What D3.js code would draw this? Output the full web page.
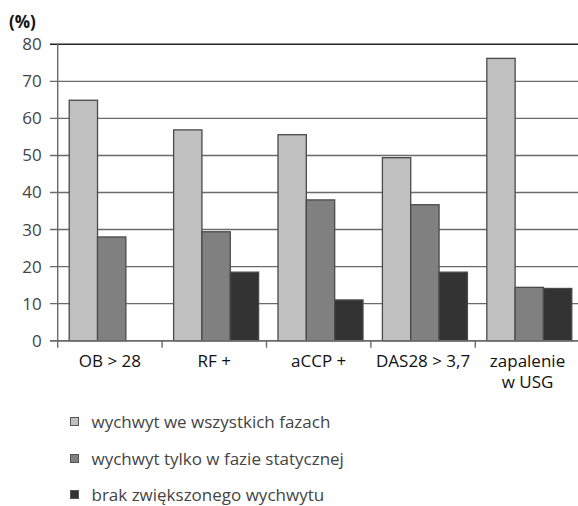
<!DOCTYPE html>
<html>
<head>
<meta charset="utf-8">
<script src="https://cdn.jsdelivr.net/npm/d3@7"></script>
<style>
  html, body { margin: 0; padding: 0; background: #fff; }
  svg { display: block; }
  text { font-family: "Open Sans", sans-serif; }
</style>
</head>
<body>
<svg id="chart" width="578" height="506"></svg>
<script>
const categories = [["OB > 28"], ["RF +"], ["aCCP +"], ["DAS28 > 3,7"], ["zapalenie", "w USG"]];
const seriesNames = ["wychwyt we wszystkich fazach", "wychwyt tylko w fazie statycznej", "brak zwiększonego wychwytu"];
const allPhases = [64.9, 56.9, 55.6, 49.4, 76.2];
const staticOnly = [28.0, 29.4, 38.0, 36.7, 14.4];
const noUptake = [0, 18.5, 11.0, 18.5, 14.1];
const yTicks = [0, 10, 20, 30, 40, 50, 60, 70, 80];
const colors = ["#c0c0c0", "#808080", "#333333"];

const seriesValues = [allPhases, staticOnly, noUptake];

const svg = d3.select("#chart");
const mLeft = 57.7, mRight = 579.7, mTop = 44.3, mBottom = 340.7;

const y = d3.scaleLinear().domain([0, 80]).range([mBottom, mTop]);
const x0 = d3.scaleBand().domain(d3.range(categories.length)).range([mLeft, mRight]).padding(0);
const groupOffset = 11.5, groupWidth = 85;
const x1 = d3.scaleBand().domain(d3.range(seriesNames.length)).range([0, groupWidth]).padding(0);

// y tick labels
const yAxis = d3.axisLeft(y).tickValues(yTicks).tickSize(0).tickPadding(16);
const gy = svg.append("g").attr("transform", `translate(${mLeft},0)`).call(yAxis);
gy.select(".domain").remove();
gy.selectAll("text").attr("font-size", 17).attr("fill", "#444").attr("font-family", "Open Sans, sans-serif");

// gridlines
svg.append("g").selectAll("line").data(yTicks).join("line")
  .attr("x1", 50).attr("x2", 578)
  .attr("y1", d => y(d)).attr("y2", d => y(d))
  .attr("stroke", d => d === 80 ? "#222" : "#6a6a6a")
  .attr("stroke-width", 1.4);

// y axis line
svg.append("line").attr("x1", mLeft).attr("x2", mLeft).attr("y1", mTop).attr("y2", mBottom + 7)
  .attr("stroke", "#6a6a6a").attr("stroke-width", 1.4);

// bars
const groups = svg.append("g").selectAll("g").data(categories).join("g")
  .attr("transform", (d, i) => `translate(${x0(i) + groupOffset},0)`);
groups.selectAll("rect").data((d, i) => seriesValues.map((s, j) => ({ j, v: s[i] })).filter(e => e.v > 0))
  .join("rect")
  .attr("x", e => x1(e.j))
  .attr("width", x1.bandwidth())
  .attr("y", e => y(e.v))
  .attr("height", e => y(0) - y(e.v))
  .attr("fill", e => colors[e.j])
  .attr("stroke", "#4a4a4a")
  .attr("stroke-width", 1.3);

// x axis baseline and ticks
svg.append("line").attr("x1", 50).attr("x2", 578).attr("y1", mBottom).attr("y2", mBottom)
  .attr("stroke", "#6a6a6a").attr("stroke-width", 1.4);
svg.append("g").selectAll("line").data(d3.range(1, categories.length)).join("line")
  .attr("x1", i => x0(i)).attr("x2", i => x0(i))
  .attr("y1", mBottom).attr("y2", mBottom + 7)
  .attr("stroke", "#6a6a6a").attr("stroke-width", 1.4);

// category labels (one text per line)
const labelLines = categories.flatMap((lines, i) => lines.map((t, k) => ({ i, k, t })));
svg.append("g").selectAll("text").data(labelLines).join("text")
  .attr("x", d => x0(d.i) + x0.bandwidth() / 2)
  .attr("y", d => 367 + d.k * 21)
  .attr("text-anchor", "middle")
  .attr("font-size", 17)
  .attr("fill", "#111")
  .text(d => d.t);

// unit label
svg.append("text").attr("x", 9).attr("y", 28).attr("font-size", 17).attr("font-weight", "bold")
  .attr("fill", "#111").text("(%)");

// legend
const legendY = [422, 459, 495];
const lg = svg.append("g").selectAll("g").data(seriesNames).join("g")
  .attr("transform", (d, i) => `translate(70.5,${legendY[i]})`);
lg.append("rect").attr("x", 0).attr("y", -4.5).attr("width", 8).attr("height", 8)
  .attr("fill", (d, i) => colors[i]).attr("stroke", "#555").attr("stroke-width", 1);
lg.append("text").attr("x", 21).attr("y", 0).attr("dy", "0.35em")
  .attr("font-size", 17).attr("fill", "#444").text(d => d);
</script>
</body>
</html>
